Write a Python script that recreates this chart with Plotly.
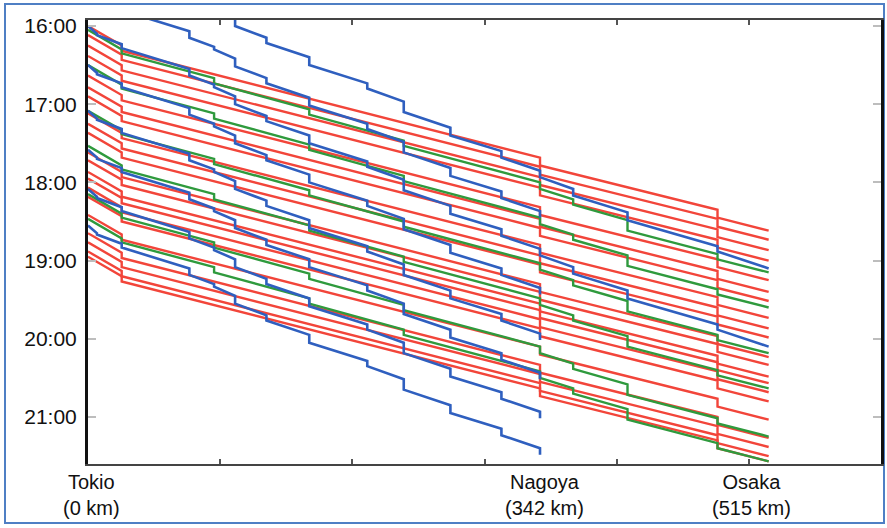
import plotly.graph_objects as go

# ---------------- data ----------------
station_names = ["Tokio", "Shinagawa", "Shin-Yokohama", "Odawara", "Atami", "Mishima",
                 "Shin-Fuji", "Shizuoka", "Kakegawa", "Hamamatsu", "Toyohashi",
                 "Mikawa-Anjo", "Nagoya", "Gifu-Hashima", "Maibara", "Kyoto", "Osaka"]
station_km = [0, 6.8, 25.5, 76.7, 95.4, 111.3, 135.0, 167.4, 211.3, 238.9, 274.2,
              312.8, 342.0, 367.1, 408.2, 476.3, 515.0]

# red trains (few stops): station index, arrival / departure minutes after leaving Tokio
red_stops = [0, 2, 12, 15, 16]
red_arr = [0, 15, 101, 141, 157]
red_dep = [0, 19, 107, 147, 157]
red_departures = ["16:00", "16:07", "16:15", "16:23", "16:38", "16:47", "16:54",
                  "17:07", "17:15", "17:22", "17:37", "17:43", "17:52", "17:57",
                  "18:04", "18:11", "18:25", "18:39", "18:46", "18:53", "18:57"]

# green trains (semi-fast)
green_stops = [0, 2, 4, 7, 9, 12, 13, 14, 15, 16]
green_arr = [0, 15, 37, 61, 85, 117, 130, 146, 172, 186]
green_dep = [0, 18, 41, 65, 89, 122, 134, 154, 176, 186]
green_departures = ["16:03", "16:30", "17:05", "17:32", "18:09", "18:28"]

# blue trains (all stations)
blue_stops = list(range(17))
blue_arr = [0, 6, 14, 33, 45, 54, 69, 84, 104, 118, 138, 156, 171, 185, 203, 229, 246]
blue_dep = [0, 7, 17, 38, 47, 60, 73, 90, 108, 126, 144, 161, 176, 190, 209, 233, 246]
blue_departures = ["15:00", "15:31", "16:00", "16:30", "17:05", "17:35", "18:05", "18:33"]
blue_terminus = ["Osaka", "Nagoya", "Osaka", "Nagoya", "Nagoya", "Nagoya", "Nagoya", "Nagoya"]

hour_ticks = ["16:00", "17:00", "18:00", "19:00", "20:00", "21:00"]
x_labels = ["Tokio<br>(0 km)", "Nagoya<br>(342 km)", "Osaka<br>(515 km)"]
x_label_km = [0, 342, 515]

RED, GREEN, BLUE = "#f2453a", "#2f9a3d", "#2f5fbf"


def to_min(s):
    h, m = s.split(":")
    return int(h) * 60 + int(m)


def path(dep_time, stops, arr, dep, last_station=None):
    t0 = to_min(dep_time)
    xs, ys = [], []
    for st, a, d in zip(stops, arr, dep):
        xs += [station_km[st], station_km[st]]
        ys += [t0 + a, t0 + d]
        if last_station is not None and station_names[st] == last_station:
            break
    return xs, ys


fig = go.Figure()
for d in red_departures:
    xs, ys = path(d, red_stops, red_arr, red_dep)
    fig.add_trace(go.Scatter(x=xs, y=ys, mode="lines", line=dict(color=RED, width=2.4),
                             hoverinfo="skip", showlegend=False))
for d in green_departures:
    xs, ys = path(d, green_stops, green_arr, green_dep)
    fig.add_trace(go.Scatter(x=xs, y=ys, mode="lines", line=dict(color=GREEN, width=2.4),
                             hoverinfo="skip", showlegend=False))
for d, term in zip(blue_departures, blue_terminus):
    xs, ys = path(d, blue_stops, blue_arr, blue_dep, term)
    fig.add_trace(go.Scatter(x=xs, y=ys, mode="lines", line=dict(color=BLUE, width=2.6),
                             hoverinfo="skip", showlegend=False))

# ---------------- layout ----------------
W, H = 887, 528
ML, MR, MT, MB = 88, 6, 20, 64
PX_PER_MIN = 78.2 / 60
y_top = 960 - 6 / PX_PER_MIN
y_bot = y_top + (H - MT - MB) / PX_PER_MIN

fig.update_layout(
    width=W, height=H,
    margin=dict(l=ML, r=MR, t=MT, b=MB, autoexpand=False),
    paper_bgcolor="white", plot_bgcolor="white",
    font=dict(family="Liberation Sans, Arial, sans-serif", size=20, color="#111"),
    xaxis=dict(range=[0, 600], tickvals=[0, 100, 200, 300, 400, 500, 600],
               showticklabels=False, ticks="inside", ticklen=5, tickwidth=2,
               tickcolor="#555", showgrid=False, zeroline=False, automargin=False,
               showline=True, linecolor="#444", linewidth=2, mirror="allticks"),
    yaxis=dict(range=[y_bot, y_top], tickvals=[to_min(t) for t in hour_ticks],
               ticktext=hour_ticks, ticks="inside", ticklen=8, tickwidth=2,
               tickcolor="#bdbdbd", ticklabelstandoff=4, showgrid=False, zeroline=False,
               showline=True, linecolor="#111", linewidth=3, mirror="allticks",
               automargin=False, tickfont=dict(size=21)),
)

for txt, km, sh in zip(x_labels, x_label_km, [3, 4, -17]):
    fig.add_annotation(x=km, y=0, xref="x", yref="paper", text=txt, showarrow=False,
                       xanchor="center", yanchor="top", yshift=-5, xshift=sh,
                       font=dict(size=20, color="#111"), align="center")

# outer frame
pw, ph = W - ML - MR, H - MT - MB
fig.add_shape(type="rect", xref="paper", yref="paper",
              x0=(5 - ML) / pw, x1=(884 - ML) / pw,
              y0=(H - MB - 523) / ph, y1=(H - MB - 4) / ph,
              line=dict(color="#4f7fc4", width=2), fillcolor="rgba(0,0,0,0)", layer="below")

fig.write_html("out.html", config={"displayModeBar": False},
               post_script="document.body.style.margin='0';document.body.style.overflow='hidden';")
